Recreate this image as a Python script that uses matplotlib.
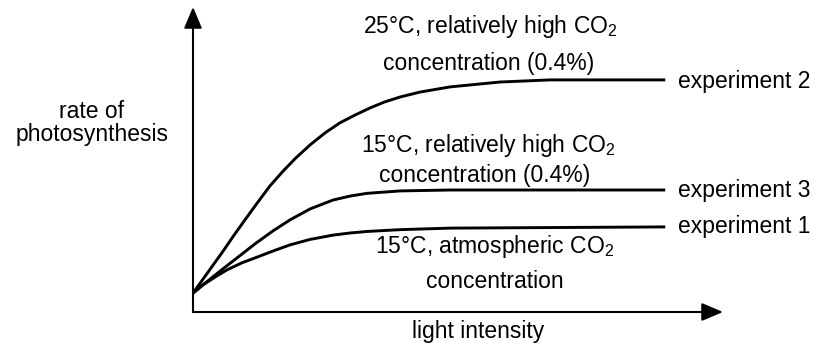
import numpy as np
import matplotlib
matplotlib.use("Agg")
import matplotlib.pyplot as plt

plt.rcParams['font.family'] = ['Liberation Sans', 'DejaVu Sans']
plt.rcParams['mathtext.fontset'] = 'custom'
plt.rcParams['mathtext.rm'] = 'Liberation Sans'

# light intensity / rate of photosynthesis (arbitrary units)
exp2_light = [0, 0.19, 0.38, 0.57, 0.75, 0.98, 1.21, 1.45, 1.70, 1.94, 2.21, 2.49, 2.77,
              3.06, 3.34, 3.62, 3.91, 4.28, 4.85, 5.79, 6.74, 8.91]
exp2_rate = [0.62, 1.08, 1.54, 2.00, 2.46, 3.02, 3.57, 4.13, 4.62, 5.05, 5.48, 5.87, 6.20,
             6.46, 6.69, 6.89, 7.05, 7.21, 7.38, 7.54, 7.61, 7.61]

exp3_light = [0, 0.23, 0.51, 0.85, 1.19, 1.51, 1.83, 2.21, 2.64, 2.96, 3.28, 3.91, 4.85, 8.91]
exp3_rate = [0.62, 0.95, 1.34, 1.80, 2.26, 2.66, 3.02, 3.38, 3.67, 3.80, 3.89, 3.97, 4.00, 4.00]

exp1_light = [0, 0.19, 0.42, 0.64, 0.92, 1.21, 1.51, 1.83, 2.21, 2.64, 2.96, 3.28, 3.91, 4.85, 8.91]
exp1_rate = [0.62, 0.89, 1.15, 1.38, 1.61, 1.80, 2.00, 2.20, 2.38, 2.52, 2.59, 2.64, 2.70, 2.75, 2.79]

fig = plt.figure(figsize=(8.19, 3.53), dpi=100)
ax = fig.add_axes([193 / 819, 41 / 353, 530 / 819, 305 / 353])
ax.set_xlim(0, 10)
ax.set_ylim(0, 10)
ax.axis('off')

for lx, ry in [(exp2_light, exp2_rate), (exp3_light, exp3_rate), (exp1_light, exp1_rate)]:
    ax.plot(lx, ry, color='black', lw=2.1, solid_joinstyle='round', solid_capstyle='butt')

# axes drawn as arrows
arrow = dict(arrowstyle='-|>,head_length=1.3,head_width=0.55', color='black',
             lw=1.5, mutation_scale=10, shrinkA=0, shrinkB=0)
ax.annotate('', xy=(0, 1), xytext=(0, 0), xycoords='axes fraction', arrowprops=arrow)
ax.annotate('', xy=(1, 0), xytext=(0, 0), xycoords='axes fraction', arrowprops=arrow)

fs = 16.5
co2 = r'CO$_\mathrm{2}$'
kw = dict(fontsize=fs, va='baseline', clip_on=False)

ax.text(5.60, 9.15, '25\u00b0C, relatively high ' + co2, ha='center', **kw)
ax.text(5.58, 7.93, 'concentration (0.4%)', ha='center', **kw)
ax.text(5.58, 5.25, '15\u00b0C, relatively high ' + co2, ha='center', **kw)
ax.text(5.51, 4.26, 'concentration (0.4%)', ha='center', **kw)
ax.text(5.70, 1.93, '15\u00b0C, atmospheric ' + co2, ha='center', **kw)
ax.text(5.70, 0.79, 'concentration', ha='center', **kw)

ax.text(9.15, 7.34, 'experiment 2', ha='left', **kw)
ax.text(9.15, 3.77, 'experiment 3', ha='left', **kw)
ax.text(9.15, 2.59, 'experiment 1', ha='left', **kw)

ax.text(5.38, -0.85, 'light intensity', ha='center', **kw)
ax.text(-1.91, 6.36, 'rate of', ha='center', **kw)
ax.text(-1.91, 5.61, 'photosynthesis', ha='center', **kw)

fig.savefig('out.png', dpi=100)
